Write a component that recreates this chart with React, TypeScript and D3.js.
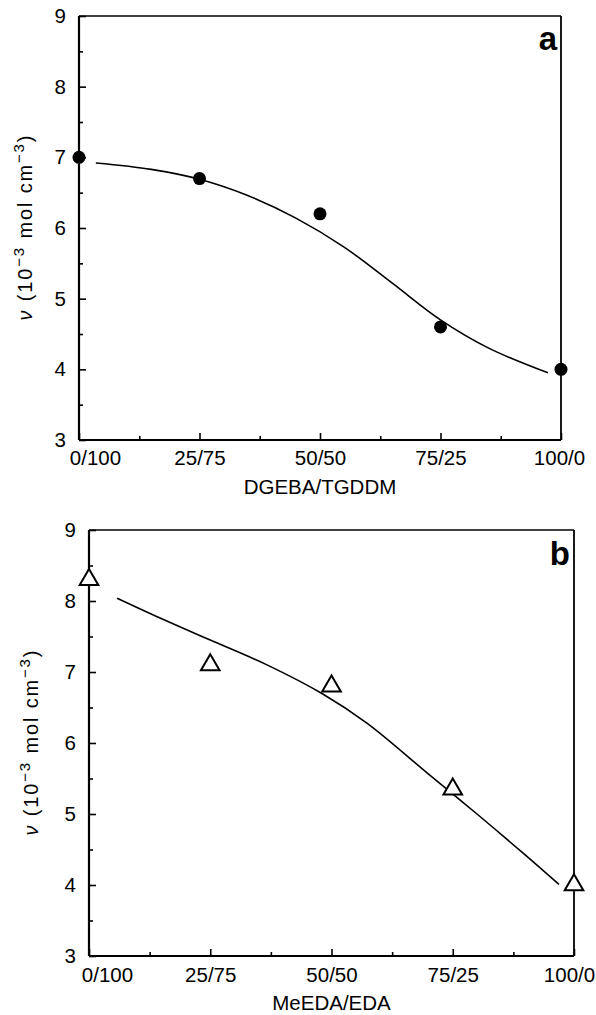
import React, { useEffect, useRef } from 'react';
import * as d3 from 'd3';

// composition (x axis) shared by both panels
const ratioPos = [0, 25, 50, 75, 100];
const ratioLabels = ['0/100', '25/75', '50/50', '75/25', '100/0'];
const nuTicks = [3, 4, 5, 6, 7, 8, 9];

// panel a: DGEBA/TGDDM
const dgebaMeasured = [7.0, 6.7, 6.2, 4.6, 4.0];
const dgebaFitX = [3.5, 15, 25, 35, 45, 55, 65, 75, 85, 97.3];
const dgebaFitY = [6.92, 6.83, 6.69, 6.46, 6.14, 5.73, 5.22, 4.7, 4.3, 3.95];

// panel b: MeEDA/EDA
const meedaMeasured = [8.3, 7.1, 6.8, 5.35, 4.0];
const meedaFitX = [5.8, 15, 25, 36.7, 48.2, 57.3, 69.7, 80, 90, 96.9];
const meedaFitY = [8.04, 7.75, 7.45, 7.1, 6.69, 6.28, 5.58, 5.0, 4.42, 4.01];

const FONT = '"Liberation Sans", Arial, Helvetica, sans-serif';

function Panel({ id, box, measured, fitX, fitY, marker, xTitle, tag, titleY, labelX, tickPad, edgeShift }) {
  const ref = useRef(null);

  useEffect(() => {
    const g = d3.select(ref.current);
    g.selectAll('*').remove();

    const x = d3.scaleLinear().domain([0, 100]).range([box.left, box.right]);
    const y = d3.scaleLinear().domain([3, 9]).range([box.bottom, box.top]);

    // frame
    const frame = g.append('g').attr('stroke', '#000').attr('fill', 'none');
    frame.append('line').attr('x1', box.left).attr('x2', box.right)
      .attr('y1', box.top).attr('y2', box.top).attr('stroke-width', 1.4);
    frame.append('line').attr('x1', box.right).attr('x2', box.right)
      .attr('y1', box.top).attr('y2', box.bottom).attr('stroke-width', 1.8);
    frame.append('line').attr('x1', box.left).attr('x2', box.left)
      .attr('y1', box.top).attr('y2', box.bottom).attr('stroke-width', 2.2);
    frame.append('line').attr('x1', box.left).attr('x2', box.right)
      .attr('y1', box.bottom).attr('y2', box.bottom).attr('stroke-width', 2.2);

    // y axis, ticks pointing inward
    const yAxis = g.append('g').attr('transform', `translate(${box.left},0)`)
      .call(d3.axisLeft(y).tickValues(nuTicks).tickFormat(d3.format('d'))
        .tickSize(-7).tickPadding(13));
    g.append('g').attr('transform', `translate(${box.left},0)`)
      .call(d3.axisLeft(y).tickValues(d3.range(3.5, 9, 1)).tickFormat(() => '').tickSize(-4))
      .select('.domain').remove();

    // x axis
    const xAxis = g.append('g').attr('transform', `translate(0,${box.bottom})`)
      .call(d3.axisBottom(x).tickValues(ratioPos).tickFormat((d, i) => ratioLabels[i])
        .tickSize(-7).tickPadding(tickPad));
    g.append('g').attr('transform', `translate(0,${box.bottom})`)
      .call(d3.axisBottom(x).tickValues(d3.range(12.5, 100, 25)).tickFormat(() => '').tickSize(-4))
      .select('.domain').remove();

    [yAxis, xAxis].forEach(a => {
      a.select('.domain').remove();
      a.selectAll('text').attr('font-family', FONT).attr('font-size', 20.5).attr('fill', '#000');
    });
    g.selectAll('.tick line').attr('stroke', '#000').attr('stroke-width', 1.6);

    // end labels sit inside the corners
    const xt = xAxis.selectAll('.tick text');
    xt.filter((d, i) => i === 0).attr('dx', edgeShift[0]);
    xt.filter((d, i) => i === ratioPos.length - 1).attr('dx', edgeShift[1]);

    // fitted curve
    const line = d3.line()
      .x(d => x(d[0]))
      .y(d => y(d[1]))
      .curve(d3.curveCatmullRom.alpha(0.5));
    g.append('path')
      .datum(fitX.map((v, i) => [v, fitY[i]]))
      .attr('d', line)
      .attr('fill', 'none')
      .attr('stroke', '#000')
      .attr('stroke-width', 1.6);

    // measured points
    const pts = g.append('g');
    if (marker === 'circle') {
      pts.selectAll('circle').data(measured).join('circle')
        .attr('cx', (d, i) => x(ratioPos[i]))
        .attr('cy', d => y(d))
        .attr('r', 6.5)
        .attr('fill', '#000');
    } else {
      pts.selectAll('path').data(measured).join('path')
        .attr('transform', (d, i) => `translate(${x(ratioPos[i])},${y(d)})`)
        .attr('d', d3.symbol(d3.symbolTriangle, 150)())
        .attr('fill', '#fff')
        .attr('stroke', '#000')
        .attr('stroke-width', 2);
    }

    // panel letter
    g.append('text')
      .attr('x', box.right - 4)
      .attr('y', tag.y)
      .attr('text-anchor', 'end')
      .attr('font-family', FONT)
      .attr('font-weight', 'bold')
      .attr('font-size', 33)
      .text(tag.text);

    // x title
    g.append('text')
      .attr('x', (box.left + box.right) / 2)
      .attr('y', titleY)
      .attr('text-anchor', 'middle')
      .attr('font-family', FONT)
      .attr('font-size', 20.5)
      .text(xTitle);

    // y title
    const cy = (box.top + box.bottom) / 2;
    const yt = g.append('text')
      .attr('transform', `translate(${labelX},${cy}) rotate(-90)`)
      .attr('text-anchor', 'middle')
      .attr('font-family', FONT)
      .attr('font-size', 20)
      .attr('textLength', 185)
      .attr('lengthAdjust', 'spacing');
    yt.append('tspan').attr('font-style', 'italic').text('ν');
    yt.append('tspan').text(' (10');
    yt.append('tspan').attr('dy', -8).attr('font-size', 15).text('−3');
    yt.append('tspan').attr('dy', 8).text(' mol cm');
    yt.append('tspan').attr('dy', -8).attr('font-size', 15).text('−3');
    yt.append('tspan').attr('dy', 8).text(')');
  }, [id]);

  return <g ref={ref} id={id}></g>;
}

export default function App() {
  return (
    <svg width={596} height={1015} style={{ position: 'absolute', left: 0, top: 0, background: '#fff' }}>
      <rect x={0} y={0} width={596} height={1015} fill="#fff" />
      <Panel
        id="panel_a"
        box={{ left: 79, right: 561, top: 16, bottom: 440 }}
        measured={dgebaMeasured}
        fitX={dgebaFitX}
        fitY={dgebaFitY}
        marker="circle"
        xTitle="DGEBA/TGDDM"
        tag={{ text: 'a', y: 50 }}
        titleY={494}
        labelX={32}
        tickPad={10}
        edgeShift={[16, -2]}
      />
      <Panel
        id="panel_b"
        box={{ left: 89, right: 574, top: 530, bottom: 956 }}
        measured={meedaMeasured}
        fitX={meedaFitX}
        fitY={meedaFitY}
        marker="triangle"
        xTitle="MeEDA/EDA"
        tag={{ text: 'b', y: 565 }}
        titleY={1010}
        labelX={38}
        tickPad={11}
        edgeShift={[18, -5]}
      />
    </svg>
  );
}
